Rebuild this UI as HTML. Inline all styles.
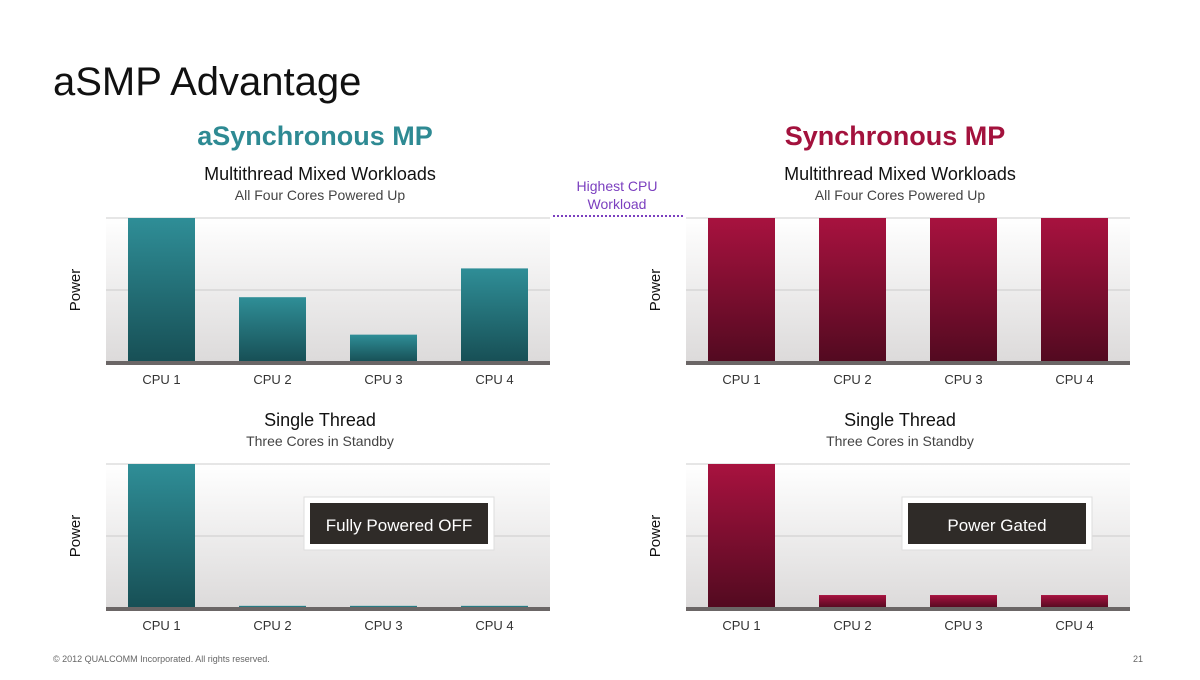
<!DOCTYPE html>
<html><head><meta charset="utf-8"><style>
body{margin:0;width:1200px;height:675px;overflow:hidden;background:#fff;font-family:"Liberation Sans",sans-serif;}
</style></head><body>
<svg width="1200" height="675" viewBox="0 0 1200 675" xmlns="http://www.w3.org/2000/svg">
<defs>
<linearGradient id="bg" x1="0" y1="0" x2="0" y2="1"><stop offset="0" stop-color="#fff"/><stop offset="1" stop-color="#dcdada"/></linearGradient>
<linearGradient id="teal" x1="0" y1="0" x2="0" y2="1"><stop offset="0" stop-color="#2f8e97"/><stop offset="1" stop-color="#174f55"/></linearGradient>
<linearGradient id="red" x1="0" y1="0" x2="0" y2="1"><stop offset="0" stop-color="#a8123f"/><stop offset="1" stop-color="#520a20"/></linearGradient>
</defs>
<text x="53" y="95" font-size="40" fill="#111">aSMP Advantage</text>
<text x="315" y="145" font-size="27" font-weight="bold" fill="#2e8a93" text-anchor="middle">aSynchronous MP</text>
<text x="895" y="145" font-size="27" font-weight="bold" fill="#a3123d" text-anchor="middle">Synchronous MP</text>
<text x="617" y="191" font-size="14" fill="#7b3fbf" text-anchor="middle">Highest CPU</text>
<text x="617" y="209" font-size="14" fill="#7b3fbf" text-anchor="middle">Workload</text>
<line x1="553" y1="216" x2="683" y2="216" stroke="#7b3fbf" stroke-width="2" stroke-dasharray="2,2"/>
<g id="charts"></g>
<text x="53" y="662" font-size="9" fill="#666">© 2012 QUALCOMM Incorporated. All rights reserved.</text>
<text x="1143" y="662" font-size="9" fill="#666" text-anchor="end">21</text>
</svg>
<script>
const categories=["CPU 1","CPU 2","CPU 3","CPU 4"];
const asmpMulti=[100,45,19,65];
const smpMulti=[100,100,100,100];
const asmpSingle=[100,1.5,1.5,1.5];
const smpSingle=[100,9,9,9];
const NS="http://www.w3.org/2000/svg";
const root=document.getElementById('charts');
function mk(tag,attrs,parent){const e=document.createElementNS(NS,tag);for(const k in attrs)e.setAttribute(k,attrs[k]);parent.appendChild(e);return e;}
function chart(x0,top,vals,fill,title,sub,name,box){
  const g=mk('g',{},root);
  
  
  const w=444,h=144,base=top+h;
  const cx=x0+w/2-8;
  const t=mk('text',{x:cx,y:top-38,'font-size':18,fill:'#111','text-anchor':'middle'},g);t.textContent=title;
  
  
  const s=mk('text',{x:cx,y:top-18,'font-size':14,fill:'#444','text-anchor':'middle'},g);s.textContent=sub;
  
  
  const bgR=mk('rect',{x:x0,y:top,width:w,height:h,fill:'url(#bg)'},g);
  
  
  [0,0.5].forEach(f=>{const l=mk('line',{x1:x0,x2:x0+w,y1:top+h*f,y2:top+h*f,stroke:'#ccc','stroke-width':1},g);
    
    });
  const yl=mk('text',{x:0,y:0,'font-size':15,fill:'#111','text-anchor':'middle',transform:`translate(${x0-26},${top+h/2}) rotate(-90)`},g);yl.textContent='Power';
  
  
  const step=111,bw=67;
  vals.forEach((v,i)=>{
    const bh=h*v/100,bx=x0+22+i*step;
    const r=mk('rect',{x:bx,y:base-bh,width:bw,height:bh,fill:fill},g);
    
    
    const lb=mk('text',{x:bx+bw/2,y:base+22,'font-size':13,fill:'#333','text-anchor':'middle'},g);lb.textContent=categories[i];
    
    
  });
  const ax=mk('rect',{x:x0,y:base-1,width:w,height:4,fill:'#6b6666'},g);
  
  
  if(box){
    const bxg=mk('g',{},g);
    
    
    mk('rect',{x:box.x,y:497,width:190,height:53,fill:'#fff',stroke:'#ddd'},bxg);
    mk('rect',{x:box.x+6,y:503,width:178,height:41,fill:'#2f2b28'},bxg);
    const bt=mk('text',{x:box.x+95,y:531,'font-size':17,fill:'#fff','text-anchor':'middle'},bxg);bt.textContent=box.t;
  }
}
chart(106,218,asmpMulti,'url(#teal)','Multithread Mixed Workloads','All Four Cores Powered Up','asmp-multithread-chart');
chart(686,218,smpMulti,'url(#red)','Multithread Mixed Workloads','All Four Cores Powered Up','smp-multithread-chart');
chart(106,464,asmpSingle,'url(#teal)','Single Thread','Three Cores in Standby','asmp-single-thread-chart',{x:304,t:'Fully Powered OFF'});
chart(686,464,smpSingle,'url(#red)','Single Thread','Three Cores in Standby','smp-single-thread-chart',{x:902,t:'Power Gated'});
</script>
</body></html>
